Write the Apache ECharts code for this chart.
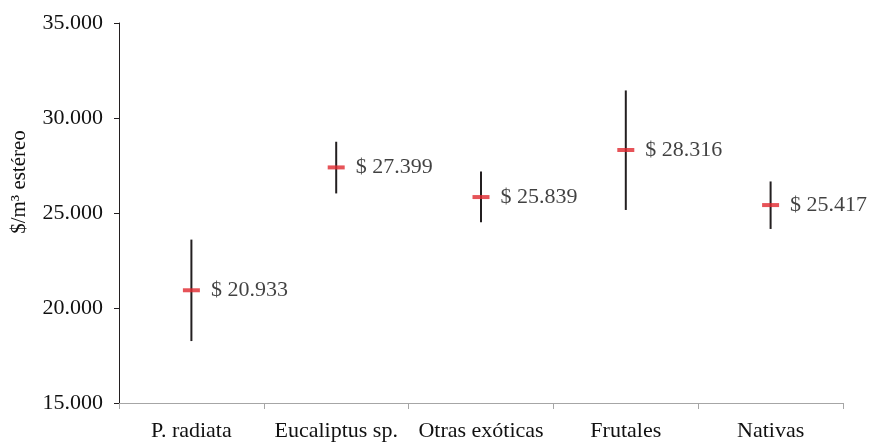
<!DOCTYPE html>
<html>
<head>
<meta charset="utf-8">
<script src="https://cdn.jsdelivr.net/npm/echarts@6/dist/echarts.min.js"></script>
<style>html,body{margin:0;padding:0;background:#fff}#c{width:869px;height:442px}</style>
</head>
<body>
<div id="c"></div>
<script>
var categories = ['P. radiata', 'Eucaliptus sp.', 'Otras exóticas', 'Frutales', 'Nativas'];
var means = [20933, 27399, 25839, 28316, 25417];
var lows = [18260, 26030, 24510, 25160, 24160];
var highs = [23600, 28750, 27180, 31450, 26660];
var yTicks = [15000, 20000, 25000, 30000, 35000];

function fmt(v) { return String(v).replace(/\B(?=(\d{3})+(?!\d))/g, '.'); }

var FONT = 'Liberation Serif';
var TXT = '#111111';
var chart = echarts.init(document.getElementById('c'));
chart.setOption({
  animation: false,
  grid: { left: 119, right: 26, top: 23, bottom: 37 },
  xAxis: {
    type: 'category',
    data: categories,
    boundaryGap: true,
    axisLine: { lineStyle: { color: '#a6a6a6', width: 1 } },
    axisTick: { show: true, length: 6, lineStyle: { color: '#a6a6a6' } },
    axisLabel: { color: TXT, fontFamily: FONT, fontSize: 22, margin: 17, interval: 0 }
  },
  yAxis: {
    type: 'value',
    min: yTicks[0], max: yTicks[yTicks.length - 1], interval: 5000,
    splitLine: { show: false },
    axisLine: { show: true, lineStyle: { color: '#231f20', width: 1 } },
    axisTick: { show: true, length: 5, lineStyle: { color: '#231f20' } },
    axisLabel: { color: TXT, fontFamily: FONT, fontSize: 22, margin: 16, formatter: function (v) { return fmt(v); } },
    name: '$/m³ estéreo',
    nameLocation: 'middle',
    nameRotate: 90,
    nameGap: 89,
    nameTextStyle: { color: TXT, fontFamily: FONT, fontSize: 21, padding: [0, 0, 0, 62] }
  },
  series: [
    {
      type: 'custom',
      data: categories.map(function (c, i) { return [i, lows[i], highs[i]]; }),
      renderItem: function (params, api) {
        var p1 = api.coord([api.value(0), api.value(1)]);
        var p2 = api.coord([api.value(0), api.value(2)]);
        return {
          type: 'line',
          shape: { x1: p1[0], y1: p1[1], x2: p2[0], y2: p2[1] },
          style: { stroke: '#231f20', lineWidth: 2 }
        };
      },
      z: 2
    },
    {
      type: 'scatter',
      data: categories.map(function (c, i) { return [i, means[i]]; }),
      symbol: 'rect',
      symbolSize: [17, 4],
      itemStyle: { color: '#e0282e' },
      label: {
        show: true, position: 'right', distance: 11,
        color: TXT, fontFamily: FONT, fontSize: 22,
        formatter: function (p) { return '$ ' + fmt(p.value[1]); }
      },
      z: 3
    }
  ]
});
</script>
</body>
</html>
